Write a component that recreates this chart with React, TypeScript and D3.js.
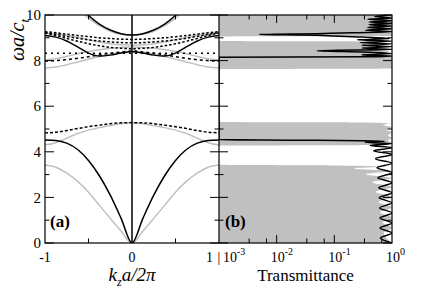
import * as d3 from 'd3';

const W = 436;
const H = 302;
const box = { left: 45, mid: 219, right: 392, top: 15, bottom: 243 };

// (a) band structure, half zone k >= 0 (mirrored for k < 0)
const kHalf = [0, 0.125, 0.25, 0.375, 0.5, 0.625, 0.75, 0.875, 1];
const blackAcoustic = [0, 1.08, 2.1, 2.95, 3.62, 4.1, 4.38, 4.5, 4.52];
const blackWave = [8.4, 8.33, 8.24, 8.2, 8.33, 8.6, 8.86, 9.03, 9.1];
const blackTop = [9.12, 9.18, 9.34, 9.6, 9.98, 10.45, 11.0, 11.6, 12.2];
const grayAcoustic = [0, 0.52, 1.08, 1.65, 2.23, 2.7, 3.06, 3.32, 3.42];
const graySecond = [5.27, 5.23, 5.15, 5.06, 4.95, 4.8, 4.6, 4.4, 4.3];
const grayUp1 = [8.36, 8.34, 8.28, 8.18, 8.06, 7.94, 7.82, 7.72, 7.68];
const grayUp2 = [8.6, 8.58, 8.54, 8.48, 8.4, 8.3, 8.18, 8.08, 8.03];
const grayUp3 = [8.67, 8.69, 8.74, 8.82, 8.92, 9.02, 9.11, 9.18, 9.2];
const grayTop = [9.1, 9.15, 9.29, 9.53, 9.86, 10.3, 10.8, 11.4, 12.0];
const dashMid = [5.28, 5.27, 5.23, 5.17, 5.1, 5.02, 4.93, 4.86, 4.83];
const dashUp1 = [8.93, 8.94, 8.97, 9.0, 9.05, 9.1, 9.16, 9.22, 9.27];
const dashUp2 = [8.78, 8.79, 8.82, 8.86, 8.91, 8.98, 9.06, 9.15, 9.24];
const dashUp3 = [8.52, 8.54, 8.58, 8.65, 8.74, 8.85, 8.97, 9.1, 9.21];
const dashLow = [8.42, 8.38, 8.32, 8.25, 8.17, 8.1, 8.04, 8.0, 7.98];
const dotFlat = [8.32, 8.32, 8.32, 8.32, 8.32, 8.32, 8.32, 8.32, 8.32];

// (b) transmittance spectra
const blackFreq = [0, 0.22, 0.44, 0.66, 0.88, 1.1, 1.32, 1.54, 1.76, 1.98, 2.2, 2.42, 2.64, 2.86, 3.08, 3.3, 3.5, 3.7, 3.88, 4.05, 4.18, 4.28, 4.36, 4.42, 4.46, 4.49, 4.51, 4.53, 4.6, 8.15, 8.17, 8.2, 8.25, 8.31, 8.37, 8.43, 8.49, 8.55, 8.61, 8.67, 8.73, 8.79, 8.85, 8.91, 8.97, 9.03, 9.08, 9.12, 9.15, 9.18, 9.22, 9.27, 9.33, 9.39, 9.45, 9.51, 9.57, 9.63, 9.69, 9.75, 9.81, 9.87, 9.93, 10];
const blackT = [1, 0.63, 1, 0.62, 1, 0.62, 1, 0.61, 1, 0.6, 1, 0.59, 1, 0.57, 1, 0.55, 1, 0.52, 1, 0.48, 1, 0.42, 1, 0.34, 0.75, 0.3, 0.02, 0.0005, 0.0001, 0.0001, 0.35, 1, 0.3, 1, 0.35, 0.05, 1, 0.3, 1, 0.3, 1, 0.28, 1, 0.25, 0.9, 0.3, 0.1, 0.03, 0.005, 0.05, 0.2, 1, 0.35, 1, 0.38, 1, 0.4, 1, 0.4, 1, 0.38, 1, 0.5, 0.9];
const grayFreq = [0, 0.45, 0.68, 0.9, 1.12, 1.35, 1.57, 1.8, 2.02, 2.25, 2.46, 2.66, 2.85, 3.02, 3.16, 3.27, 3.35, 3.4, 3.43, 4.27, 4.3, 4.4, 4.5, 4.6, 4.72, 4.85, 4.97, 5.08, 5.18, 5.25, 5.29, 5.31, 7.62, 7.65, 7.8, 8.0, 8.2, 8.3, 8.4, 8.5, 8.6, 8.7, 8.8, 8.84, 8.86, 9.06, 9.08, 10];
const grayT = [1, 0.72, 1, 0.68, 1, 0.62, 1, 0.58, 1, 0.52, 1, 0.45, 1, 0.35, 0.95, 0.22, 0.7, 0.1, 0.0001, 0.0001, 0.5, 1, 0.85, 1, 0.85, 1, 0.8, 1, 0.7, 0.9, 0.3, 0.0001, 0.0001, 1, 1, 1, 1, 0.45, 0.9, 0.4, 0.85, 0.35, 0.6, 0.4, 0.0001, 0.0001, 1, 1];

const yTicks = [0, 1, 2, 3, 4, 5, 6, 7, 8, 9, 10];
const kMinorTicks = [-0.5, 0.5];
const tMajorTicks = [0.01, 0.1];
const tMinorTicks = [0.00333, 0.00667, 0.0333, 0.0667, 0.333, 0.667];
const tLabels = [
  { v: 0.001, exp: '-3' },
  { v: 0.01, exp: '-2' },
  { v: 0.1, exp: '-1' },
  { v: 1, exp: '0' },
];

const GRAY = '#c0c0c0';
const FONT = 'Liberation Serif';

const mirror = (vals: number[]): [number, number][] => {
  const pts: [number, number][] = [];
  for (let i = kHalf.length - 1; i >= 0; i--) pts.push([-kHalf[i], vals[i]]);
  for (let i = 1; i < kHalf.length; i++) pts.push([kHalf[i], vals[i]]);
  return pts;
};

export default function App() {
  const x = d3.scaleLinear().domain([-1, 1]).range([box.left, box.mid]);
  const y = d3.scaleLinear().domain([0, 10]).range([box.bottom, box.top]);
  const xT = d3.scaleLog().domain([0.001, 1]).range([box.mid, box.right]).clamp(true);

  const band = d3
    .line<[number, number]>()
    .x((d) => x(d[0]))
    .y((d) => y(d[1]))
    .curve(d3.curveMonotoneX);

  const grayPts = grayFreq.map((f, i) => [f, grayT[i]] as [number, number]);
  const blackPts = blackFreq.map((f, i) => [f, blackT[i]] as [number, number]);

  const grayArea = d3
    .area<[number, number]>()
    .y((d) => y(d[0]))
    .x0(xT(0.001))
    .x1((d) => xT(Math.max(d[1], 0.001)))
    .curve(d3.curveMonotoneY);

  const blackLine = d3
    .line<[number, number]>()
    .x((d) => xT(Math.max(d[1], 0.001)))
    .y((d) => y(d[0]))
    .curve(d3.curveMonotoneY);

  const grayBands = [grayAcoustic, graySecond, grayUp1, grayUp2, grayUp3, grayTop];
  const solidBands = [blackAcoustic, blackWave, blackTop];
  const dashed = [
    { vals: dashMid, dash: '3,2' },
    { vals: dashUp1, dash: '2.5,2' },
    { vals: dashUp2, dash: '2.5,2' },
    { vals: dashUp3, dash: '2.5,2' },
    { vals: dashLow, dash: '3,3' },
    { vals: dotFlat, dash: '2,4' },
  ];

  return (
    <svg width={W} height={H} style={{ position: 'absolute', left: 0, top: 0, background: '#fff' }}>
      <defs>
        <clipPath id="clipA">
          <rect x={box.left} y={box.top} width={box.mid - box.left} height={box.bottom - box.top} />
        </clipPath>
        <clipPath id="clipB">
          <rect x={box.mid} y={box.top} width={box.right - box.mid} height={box.bottom - box.top} />
        </clipPath>
      </defs>

      {/* panel (b) spectra */}
      <g clipPath="url(#clipB)">
        <path d={grayArea(grayPts) || ''} fill={GRAY} stroke="none" />
        <path d={blackLine(blackPts) || ''} fill="none" stroke="#000" strokeWidth={1.5} />
      </g>

      {/* panel (a) bands */}
      <g clipPath="url(#clipA)" fill="none" strokeWidth={1.5}>
        {grayBands.map((v, i) => (
          <path key={`g${i}`} d={band(mirror(v)) || ''} stroke={GRAY} />
        ))}
        {solidBands.map((v, i) => (
          <path key={`b${i}`} d={band(mirror(v)) || ''} stroke="#000" />
        ))}
        {dashed.map((s, i) => (
          <path key={`d${i}`} d={band(mirror(s.vals)) || ''} stroke="#000" strokeDasharray={s.dash} />
        ))}
        <line x1={x(0)} x2={x(0)} y1={y(0)} y2={y(10)} stroke="#000" />
      </g>

      {/* frames */}
      <rect
        x={box.left}
        y={box.top}
        width={box.right - box.left}
        height={box.bottom - box.top}
        fill="none"
        stroke="#000"
        strokeWidth={1.2}
      />
      <line x1={box.mid} x2={box.mid} y1={box.top} y2={box.bottom} stroke="#000" strokeWidth={1.2} />

      {/* y ticks */}
      {yTicks.map((t) => {
        const len = t % 2 === 0 ? 9 : 4.5;
        const yy = y(t);
        return (
          <g key={`yt${t}`} stroke="#000" strokeWidth={1}>
            <line x1={box.left} x2={box.left + len} y1={yy} y2={yy} />
            <line x1={box.mid - len} x2={box.mid + len} y1={yy} y2={yy} />
            <line x1={box.right - len} x2={box.right} y1={yy} y2={yy} />
          </g>
        );
      })}
      {yTicks
        .filter((t) => t % 2 === 0)
        .map((t) => (
          <text
            key={`yl${t}`}
            x={box.left - 4}
            y={y(t)}
            dy="0.35em"
            textAnchor="end"
            fontSize={15}
            fontFamily={FONT}
          >
            {t}
          </text>
        ))}

      {/* k ticks */}
      {kMinorTicks.map((t) => (
        <g key={`kt${t}`} stroke="#000" strokeWidth={1}>
          <line x1={x(t)} x2={x(t)} y1={box.bottom} y2={box.bottom - 4.5} />
          <line x1={x(t)} x2={x(t)} y1={box.top} y2={box.top + 4.5} />
        </g>
      ))}

      {/* transmittance ticks */}
      {tMajorTicks.map((t) => (
        <g key={`tM${t}`} stroke="#000" strokeWidth={1}>
          <line x1={xT(t)} x2={xT(t)} y1={box.bottom} y2={box.bottom - 8} />
          <line x1={xT(t)} x2={xT(t)} y1={box.top} y2={box.top + 8} />
        </g>
      ))}
      {tMinorTicks.map((t) => (
        <g key={`tm${t}`} stroke="#000" strokeWidth={1}>
          <line x1={xT(t)} x2={xT(t)} y1={box.bottom} y2={box.bottom - 4.5} />
          <line x1={xT(t)} x2={xT(t)} y1={box.top} y2={box.top + 4.5} />
        </g>
      ))}

      {/* x tick labels */}
      <text x={x(-1)} y={262} textAnchor="middle" fontSize={14} fontFamily={FONT}>-1</text>
      <text x={x(0)} y={262} textAnchor="middle" fontSize={14} fontFamily={FONT}>0</text>
      <text x={x(1) - 6} y={262} textAnchor="end" fontSize={14} fontFamily={FONT}>1</text>
      <text x={box.mid} y={262} textAnchor="middle" fontSize={14} fontFamily={FONT}>|</text>
      {tLabels.map((l, i) => (
        <text
          key={l.exp}
          x={i === 0 ? xT(l.v) + 4 : xT(l.v) - 6}
          y={262}
          fontSize={14}
          fontFamily={FONT}
        >
          10
          <tspan fontSize={10} dy={-7}>{l.exp}</tspan>
        </text>
      ))}

      {/* axis titles */}
      <text x={x(0)} y={281} textAnchor="middle" fontSize={19} fontStyle="italic" fontFamily={FONT}>
        k<tspan fontSize={12} dy={5}>z</tspan>
        <tspan dy={-5}>a/2π</tspan>
      </text>
      <text x={(box.mid + box.right) / 2} y={281} textAnchor="middle" fontSize={17} fontFamily={FONT}>
        Transmittance
      </text>
      <text
        transform="translate(24,40) rotate(-90)"
        textAnchor="middle"
        fontSize={20}
        fontStyle="italic"
        fontFamily={FONT}
      >
        ωa/c<tspan fontSize={13} dy={5}>t</tspan>
      </text>

      {/* panel labels */}
      <text x={box.left + 5} y={227} fontSize={17} fontWeight="bold" fontFamily={FONT}>(a)</text>
      <text x={box.mid + 6} y={227} fontSize={17} fontWeight="bold" fontFamily={FONT}>(b)</text>
    </svg>
  );
}
